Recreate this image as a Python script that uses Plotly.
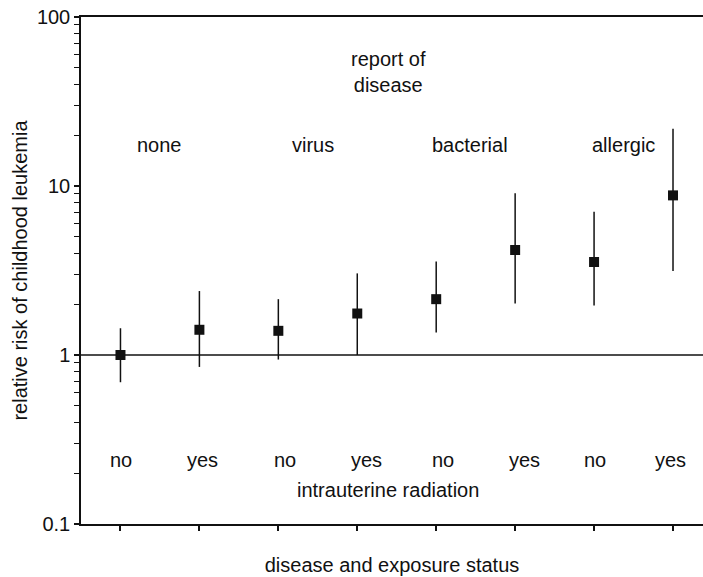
import math
import plotly.graph_objects as go

# Relative risk estimates with confidence limits, by disease report and radiation exposure
positions = [1, 2, 3, 4, 5, 6, 7, 8]
exposure = ["no", "yes", "no", "yes", "no", "yes", "no", "yes"]
risk = [1.0, 1.41, 1.39, 1.76, 2.14, 4.18, 3.55, 8.8]
upper = [1.44, 2.39, 2.14, 3.04, 3.57, 9.05, 7.05, 21.8]
lower = [0.69, 0.85, 0.94, 1.0, 1.36, 2.02, 1.96, 3.14]

diseases = ["none", "virus", "bacterial", "allergic"]
disease_x = [1.49, 3.44, 5.43, 7.37]
exposure_label_x = [1.01, 2.04, 3.08, 4.12, 5.08, 6.12, 7.01, 7.97]

y_ticks = [0.1, 1, 10, 100]
y_tick_text = ["0.1", "1", "10", "100"]

FONT = "Liberation Sans, Arial, Helvetica, sans-serif"
INK = "#111111"
SIZE = 20

fig = go.Figure()

fig.add_trace(go.Scatter(
    x=positions,
    y=risk,
    mode="markers",
    marker=dict(symbol="square", size=10, color=INK),
    error_y=dict(
        type="data",
        symmetric=False,
        array=[u - r for u, r in zip(upper, risk)],
        arrayminus=[r - l for r, l in zip(risk, lower)],
        color=INK,
        thickness=1.5,
        width=0,
    ),
    showlegend=False,
))

# Reference line at relative risk = 1
fig.add_hline(y=1, line=dict(color=INK, width=1.5), layer="below")


def note(x, y, text):
    # annotations on a log axis take the exponent as their y position
    return dict(x=x, y=math.log10(y), xref="x", yref="y", text=text,
                showarrow=False, font=dict(size=SIZE, color=INK, family=FONT))


annotations = [note(4.39, 47, "report of<br>disease")]
annotations += [note(xv, 17.5, name) for name, xv in zip(diseases, disease_x)]
annotations += [note(xv, 0.239, lab) for lab, xv in zip(exposure, exposure_label_x)]
annotations.append(note(4.39, 0.159, "intrauterine radiation"))

fig.update_layout(
    width=703,
    height=577,
    margin=dict(l=81, r=0, t=17, b=53),
    paper_bgcolor="white",
    plot_bgcolor="white",
    font=dict(family=FONT, size=SIZE, color=INK),
    annotations=annotations,
    xaxis=dict(
        range=[0.5, 8.38],
        tickvals=positions,
        ticktext=[""] * len(positions),
        ticks="outside",
        ticklen=5,
        tickwidth=1.5,
        tickcolor=INK,
        showline=True,
        linecolor=INK,
        linewidth=1.5,
        mirror=True,
        showgrid=False,
        zeroline=False,
        title=dict(text="disease and exposure status", standoff=24,
                   font=dict(size=SIZE, color=INK, family=FONT)),
    ),
    yaxis=dict(
        type="log",
        range=[-1, 2],
        tickvals=y_ticks,
        ticktext=y_tick_text,
        ticks="outside",
        ticklen=5,
        tickwidth=1.5,
        tickcolor=INK,
        minor=dict(ticks="outside", ticklen=5, tickwidth=1.2, tickcolor=INK,
                   dtick="D1", showgrid=False),
        showline=True,
        linecolor=INK,
        linewidth=1.5,
        showgrid=False,
        zeroline=False,
        tickfont=dict(size=SIZE, color=INK, family=FONT),
        title=dict(text="relative risk of childhood leukemia", standoff=4,
                   font=dict(size=SIZE, color=INK, family=FONT)),
    ),
)

fig.write_html("out.html")
